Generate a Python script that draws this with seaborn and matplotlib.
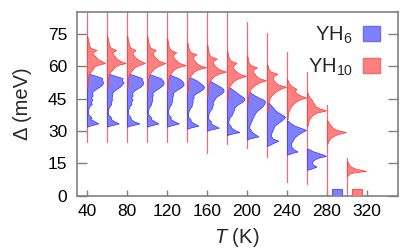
import numpy as np
import pandas as pd
import matplotlib
matplotlib.use("Agg")
import matplotlib.pyplot as plt
import seaborn as sns
from matplotlib.patches import Patch

# ---------------- data ----------------
temps = [40, 60, 80, 100, 120, 140, 160, 180, 200, 220, 240, 260, 280, 300]

# lower edge (meV) of the first 1-meV bin of each YH6 histogram
yh6_start = [32, 32, 32, 32, 32, 31, 30, 28, 26, 23, 19, 12, None, None]
yh6_hist = [
    [0.15, 0.6, 0.4, 0.18, 0.22, 0.08, 0.06, 0.06, 0.08, 0.12, 0.25, 0.2, 0.28, 0.22, 0.3, 0.25, 0.32, 0.48, 0.65, 0.8, 0.85, 0.8, 0.8, 0.5, 0.1],
    [0.15, 0.62, 0.38, 0.2, 0.2, 0.07, 0.05, 0.06, 0.08, 0.14, 0.22, 0.22, 0.26, 0.24, 0.28, 0.27, 0.35, 0.5, 0.68, 0.78, 0.88, 0.78, 0.82, 0.45, 0.1],
    [0.18, 0.65, 0.35, 0.2, 0.18, 0.07, 0.06, 0.05, 0.09, 0.13, 0.24, 0.2, 0.3, 0.22, 0.3, 0.26, 0.34, 0.5, 0.7, 0.82, 0.86, 0.8, 0.78, 0.48, 0.12],
    [0.16, 0.6, 0.4, 0.2, 0.2, 0.08, 0.05, 0.06, 0.08, 0.15, 0.22, 0.24, 0.28, 0.25, 0.3, 0.28, 0.38, 0.55, 0.72, 0.85, 0.88, 0.82, 0.72, 0.4, 0.08],
    [0.18, 0.62, 0.38, 0.18, 0.2, 0.08, 0.06, 0.06, 0.09, 0.14, 0.22, 0.25, 0.28, 0.26, 0.32, 0.3, 0.42, 0.6, 0.78, 0.88, 0.85, 0.75, 0.6, 0.3, 0.06],
    [0.15, 0.6, 0.38, 0.2, 0.18, 0.07, 0.06, 0.06, 0.1, 0.15, 0.24, 0.26, 0.3, 0.28, 0.35, 0.34, 0.48, 0.68, 0.85, 0.9, 0.8, 0.65, 0.5, 0.25, 0.05],
    [0.1, 0.62, 0.4, 0.2, 0.2, 0.08, 0.06, 0.07, 0.1, 0.16, 0.25, 0.28, 0.32, 0.3, 0.38, 0.45, 0.6, 0.78, 0.88, 0.85, 0.7, 0.5, 0.3, 0.08],
    [0.12, 0.65, 0.4, 0.22, 0.18, 0.08, 0.07, 0.1, 0.15, 0.25, 0.3, 0.35, 0.38, 0.45, 0.6, 0.8, 0.92, 0.88, 0.7, 0.55, 0.4, 0.25, 0.08],
    [0.12, 0.6, 0.42, 0.25, 0.2, 0.1, 0.12, 0.18, 0.22, 0.28, 0.32, 0.38, 0.45, 0.55, 0.7, 0.82, 0.9, 0.95, 0.88, 0.6, 0.4, 0.22, 0.06],
    [0.1, 0.35, 0.6, 0.3, 0.22, 0.2, 0.25, 0.3, 0.35, 0.4, 0.55, 0.7, 0.85, 0.95, 0.8, 0.6, 0.45, 0.35, 0.25, 0.15, 0.06],
    [0.15, 0.55, 0.35, 0.25, 0.2, 0.22, 0.3, 0.35, 0.45, 0.6, 0.8, 1.0, 0.7, 0.4, 0.2, 0.08],
    [0.2, 0.5, 0.3, 0.25, 0.35, 0.55, 1.0, 0.7, 0.35, 0.1],
    None,
    None,
]

yh10_start = [50, 50, 50, 49, 49, 48, 46, 44, 42, 39, 35, 32, 24, 9]
yh10_hist = [
    [0.03, 0.04, 0.03, 0.04, 0.05, 0.07, 0.12, 0.2, 0.28, 0.35, 0.5, 0.95, 0.75, 0.55, 0.45, 0.3, 0.3, 0.5, 0.2, 0.12, 0.1, 0.08, 0.05, 0.03],
    [0.03, 0.03, 0.04, 0.04, 0.06, 0.08, 0.12, 0.18, 0.3, 0.38, 0.55, 0.98, 0.7, 0.5, 0.42, 0.32, 0.28, 0.48, 0.22, 0.13, 0.1, 0.07, 0.05, 0.03],
    [0.03, 0.04, 0.04, 0.05, 0.05, 0.08, 0.13, 0.2, 0.3, 0.4, 0.6, 0.95, 0.68, 0.52, 0.4, 0.3, 0.3, 0.45, 0.2, 0.12, 0.1, 0.07, 0.04, 0.03],
    [0.03, 0.03, 0.04, 0.04, 0.05, 0.07, 0.1, 0.15, 0.22, 0.32, 0.45, 0.7, 0.97, 0.62, 0.5, 0.4, 0.3, 0.32, 0.46, 0.2, 0.12, 0.09, 0.06, 0.04, 0.03],
    [0.03, 0.04, 0.04, 0.05, 0.06, 0.08, 0.12, 0.18, 0.26, 0.36, 0.55, 0.98, 0.65, 0.5, 0.4, 0.3, 0.35, 0.48, 0.2, 0.12, 0.08, 0.06, 0.04, 0.03],
    [0.03, 0.04, 0.04, 0.05, 0.06, 0.08, 0.12, 0.18, 0.26, 0.36, 0.55, 1.0, 0.66, 0.5, 0.4, 0.3, 0.32, 0.5, 0.2, 0.12, 0.08, 0.06, 0.04],
    [0.03, 0.03, 0.04, 0.05, 0.06, 0.08, 0.12, 0.18, 0.26, 0.38, 0.6, 1.0, 0.65, 0.5, 0.4, 0.3, 0.32, 0.52, 0.2, 0.12, 0.08, 0.06, 0.04, 0.03],
    [0.03, 0.03, 0.04, 0.05, 0.06, 0.08, 0.12, 0.18, 0.28, 0.4, 0.62, 1.0, 0.65, 0.5, 0.38, 0.3, 0.35, 0.5, 0.2, 0.12, 0.07, 0.05, 0.03],
    [0.03, 0.04, 0.04, 0.05, 0.07, 0.1, 0.14, 0.2, 0.3, 0.45, 0.65, 1.0, 0.62, 0.48, 0.4, 0.3, 0.35, 0.52, 0.2, 0.1, 0.06, 0.04, 0.03],
    [0.03, 0.04, 0.05, 0.06, 0.08, 0.12, 0.16, 0.24, 0.35, 0.5, 0.7, 1.0, 0.6, 0.45, 0.35, 0.3, 0.35, 0.55, 0.2, 0.1, 0.06, 0.03],
    [0.03, 0.04, 0.05, 0.07, 0.1, 0.15, 0.22, 0.32, 0.45, 0.65, 1.0, 0.7, 0.5, 0.4, 0.5, 0.3, 0.15, 0.08, 0.04],
    [0.03, 0.05, 0.08, 0.12, 0.2, 0.3, 0.5, 1.0, 0.65, 0.45, 0.38, 0.3, 0.25, 0.15, 0.08, 0.04],
    [0.04, 0.08, 0.15, 0.3, 0.55, 1.0, 0.5, 0.3, 0.2, 0.12, 0.06],
    [0.05, 0.15, 1.0, 0.45, 0.2, 0.1, 0.05],
]

# full extent of the gap distribution at each T (meV)
range_lo = [25, 25, 25, 25, 25, 25, 20, 24, 22, 18, 6.5, 5.4, 0.3, 0.0]
range_hi = [86, 86, 86, 86, 86, 86, 86, 86, 80.5, 75.2, 66.7, 57.4, 42, 17.4]

# critical temperatures (markers at the bottom)
tc_labels = ["YH$_6$", "YH$_{10}$"]
tc_values = [290, 310]
tc_marker_height = [3.3, 3.3]

# ---------------- style ----------------
sns.set_theme(style="ticks")
plt.rcParams["font.family"] = ["Liberation Sans", "DejaVu Sans"]
plt.rcParams["mathtext.fontset"] = "custom"
plt.rcParams["mathtext.rm"] = "Liberation Sans"
plt.rcParams["mathtext.it"] = "Liberation Sans:italic"

blue_fc, blue_ec = "#8080ff", "#3030ff"
red_fc, red_ec = "#ff8080", "#ff3535"
line_c = "#ee6a80"
gray = "#808080"
W = 19.0  # width (K) of a histogram with density 1

fig = plt.figure(figsize=(4.15, 2.49), dpi=100)
ax = fig.add_axes([77 / 415, 1 - 195.7 / 249, 320.7 / 415, (195.7 - 12.3) / 249])

# vertical lines (range of gap values)
seg = pd.DataFrame({
    "T": np.repeat(temps, 2),
    "gap": np.ravel(np.column_stack([range_lo, range_hi])),
    "seg": np.repeat(np.arange(len(temps)), 2),
})
sns.lineplot(data=seg, x="T", y="gap", units="seg", estimator=None, sort=False,
             color=line_c, lw=0.9, ax=ax, legend=False, zorder=1)


def draw_hist(T, start, vals, fc, ec, z):
    n = len(vals)
    y = np.concatenate([[start], start + 0.5 + np.arange(n), [start + n]])
    x = T + W * np.concatenate([[0.0], vals, [0.0]])
    ax.fill_betweenx(y, T, x, facecolor=fc, edgecolor=ec, linewidth=0.5, zorder=z)


for T, s, h in zip(temps, yh6_start, yh6_hist):
    if h is not None:
        draw_hist(T, s, h, blue_fc, blue_ec, 2)
for T, s, h in zip(temps, yh10_start, yh10_hist):
    if h is not None:
        draw_hist(T, s, h, red_fc, red_ec, 3)

# Tc markers
ax.bar(tc_values, tc_marker_height, width=10.5, bottom=0,
       color=[blue_fc, red_fc], edgecolor=["#5a5af0", "#f05a5a"], linewidth=0.8, zorder=4)

ax.set_xlim(30, 350.7)
ax.set_ylim(0, 85)
ax.set_xticks([40, 80, 120, 160, 200, 240, 280, 320])
ax.set_yticks([0, 15, 30, 45, 60, 75])

for sp in ax.spines.values():
    sp.set_visible(True)
    sp.set_color(gray)
    sp.set_linewidth(1.2)

ax.tick_params(axis="x", direction="in", length=4, width=1, color=gray, pad=6,
               labelsize=12.5, top=False, labelcolor="black")
ax.tick_params(axis="y", direction="in", length=7, width=1, color=gray, pad=7,
               labelsize=12.5, right=True, labelcolor="black")

ax.set_xlabel("$T$ (K)", fontsize=14.5)
ax.set_ylabel("Δ (meV)", fontsize=14.5)
ax.xaxis.set_label_coords(0.499, -0.165)
ax.yaxis.set_label_coords(-0.141, 0.5)

handles = [Patch(facecolor=blue_fc, edgecolor="#6a6af5"),
           Patch(facecolor=red_fc, edgecolor="#f56a6a")]
ax.legend(handles, tc_labels, loc="upper right", bbox_to_anchor=(0.976, 0.99),
          markerfirst=False, frameon=False,
          fontsize=14.5, handlelength=0.85, handleheight=0.75, handletextpad=0.5,
          labelspacing=0.55, borderaxespad=0.05, borderpad=0.45)

fig.savefig("out.png", dpi=100)
